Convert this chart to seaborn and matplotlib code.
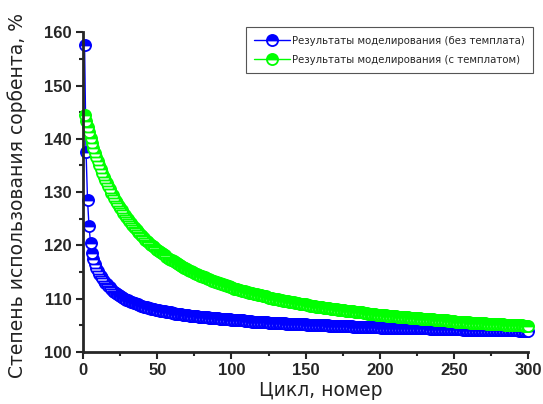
import numpy as np
import matplotlib
matplotlib.use("Agg")
import matplotlib.pyplot as plt
from matplotlib.ticker import MultipleLocator
import seaborn as sns

# cycle number 1..300
cycles = np.arange(1, 301)

# sorbent usage, %
no_template = [
    157.6, 137.6, 128.5, 123.6, 120.5, 118.6, 117.4, 116.5, 115.8, 115.2,
    114.7, 114.2, 113.8, 113.4, 113.0, 112.7, 112.4, 112.1, 111.8, 111.5,
    111.3, 111.1, 110.9, 110.7, 110.5, 110.3, 110.1, 110.0, 109.8, 109.7,
    109.6, 109.4, 109.3, 109.2, 109.1, 109.0, 108.9, 108.8, 108.7, 108.6,
    108.5, 108.4, 108.4, 108.3, 108.2, 108.1, 108.1, 108.0, 107.9, 107.9,
    107.8, 107.7, 107.7, 107.6, 107.6, 107.5, 107.5, 107.4, 107.4, 107.3,
    107.3, 107.2, 107.2, 107.2, 107.1, 107.1, 107.0, 107.0, 107.0, 106.9,
    106.9, 106.8, 106.8, 106.8, 106.7, 106.7, 106.7, 106.6, 106.6, 106.6,
    106.5, 106.5, 106.5, 106.5, 106.4, 106.4, 106.4, 106.3, 106.3, 106.3,
    106.3, 106.2, 106.2, 106.2, 106.2, 106.1, 106.1, 106.1, 106.1, 106.0,
    106.0, 106.0, 106.0, 105.9, 105.9, 105.9, 105.9, 105.9, 105.8, 105.8,
    105.8, 105.8, 105.8, 105.7, 105.7, 105.7, 105.7, 105.7, 105.6, 105.6,
    105.6, 105.6, 105.6, 105.6, 105.5, 105.5, 105.5, 105.5, 105.5, 105.5,
    105.4, 105.4, 105.4, 105.4, 105.4, 105.4, 105.3, 105.3, 105.3, 105.3,
    105.3, 105.3, 105.3, 105.2, 105.2, 105.2, 105.2, 105.2, 105.2, 105.2,
    105.1, 105.1, 105.1, 105.1, 105.1, 105.1, 105.1, 105.0, 105.0, 105.0,
    105.0, 105.0, 105.0, 105.0, 105.0, 104.9, 104.9, 104.9, 104.9, 104.9,
    104.9, 104.9, 104.9, 104.8, 104.8, 104.8, 104.8, 104.8, 104.8, 104.8,
    104.8, 104.7, 104.7, 104.7, 104.7, 104.7, 104.7, 104.7, 104.7, 104.7,
    104.6, 104.6, 104.6, 104.6, 104.6, 104.6, 104.6, 104.6, 104.6, 104.6,
    104.5, 104.5, 104.5, 104.5, 104.5, 104.5, 104.5, 104.5, 104.5, 104.5,
    104.5, 104.5, 104.5, 104.5, 104.5, 104.4, 104.4, 104.4, 104.4, 104.4,
    104.4, 104.4, 104.4, 104.4, 104.4, 104.4, 104.4, 104.4, 104.4, 104.4,
    104.4, 104.4, 104.4, 104.3, 104.3, 104.3, 104.3, 104.3, 104.3, 104.3,
    104.3, 104.3, 104.3, 104.3, 104.3, 104.3, 104.3, 104.3, 104.3, 104.3,
    104.3, 104.3, 104.3, 104.3, 104.3, 104.2, 104.2, 104.2, 104.2, 104.2,
    104.2, 104.2, 104.2, 104.2, 104.2, 104.2, 104.2, 104.2, 104.2, 104.2,
    104.2, 104.2, 104.2, 104.2, 104.2, 104.1, 104.1, 104.1, 104.1, 104.1,
    104.1, 104.1, 104.1, 104.1, 104.1, 104.1, 104.1, 104.1, 104.1, 104.1,
    104.1, 104.1, 104.1, 104.0, 104.0, 104.0, 104.0, 104.0, 104.0, 104.0,
]

with_template = [
    144.5, 143.3, 142.2, 141.2, 140.2, 139.2, 138.3, 137.4, 136.6, 135.8,
    135.0, 134.3, 133.6, 132.9, 132.3, 131.7, 131.1, 130.5, 129.9, 129.4,
    128.9, 128.4, 127.9, 127.4, 127.0, 126.6, 126.1, 125.7, 125.3, 124.9,
    124.6, 124.2, 123.9, 123.5, 123.2, 122.9, 122.6, 122.3, 122.0, 121.7,
    121.4, 121.1, 120.8, 120.6, 120.3, 120.1, 119.8, 119.6, 119.4, 119.1,
    118.9, 118.7, 118.5, 118.3, 118.1, 117.9, 117.7, 117.5, 117.3, 117.2,
    117.0, 116.8, 116.6, 116.5, 116.3, 116.1, 116.0, 115.8, 115.7, 115.5,
    115.4, 115.2, 115.1, 115.0, 114.8, 114.7, 114.6, 114.4, 114.3, 114.2,
    114.1, 114.0, 113.8, 113.7, 113.6, 113.5, 113.4, 113.3, 113.2, 113.1,
    113.0, 112.9, 112.8, 112.7, 112.6, 112.5, 112.4, 112.3, 112.2, 112.1,
    112.0, 111.9, 111.8, 111.8, 111.7, 111.6, 111.5, 111.4, 111.4, 111.3,
    111.2, 111.1, 111.1, 111.0, 110.9, 110.8, 110.8, 110.7, 110.6, 110.6,
    110.5, 110.4, 110.4, 110.3, 110.2, 110.2, 110.1, 110.0, 110.0, 109.9,
    109.9, 109.8, 109.7, 109.7, 109.6, 109.6, 109.5, 109.5, 109.4, 109.4,
    109.3, 109.3, 109.2, 109.1, 109.1, 109.0, 109.0, 108.9, 108.9, 108.9,
    108.8, 108.8, 108.7, 108.7, 108.6, 108.6, 108.5, 108.5, 108.4, 108.4,
    108.4, 108.3, 108.3, 108.2, 108.2, 108.2, 108.1, 108.1, 108.0, 108.0,
    108.0, 107.9, 107.9, 107.8, 107.8, 107.8, 107.7, 107.7, 107.7, 107.6,
    107.6, 107.6, 107.5, 107.5, 107.5, 107.4, 107.4, 107.4, 107.3, 107.3,
    107.3, 107.2, 107.2, 107.2, 107.1, 107.1, 107.1, 107.0, 107.0, 107.0,
    106.9, 106.9, 106.9, 106.9, 106.8, 106.8, 106.8, 106.7, 106.7, 106.7,
    106.7, 106.6, 106.6, 106.6, 106.6, 106.5, 106.5, 106.5, 106.5, 106.4,
    106.4, 106.4, 106.4, 106.3, 106.3, 106.3, 106.3, 106.2, 106.2, 106.2,
    106.2, 106.1, 106.1, 106.1, 106.1, 106.1, 106.0, 106.0, 106.0, 106.0,
    105.9, 105.9, 105.9, 105.9, 105.9, 105.8, 105.8, 105.8, 105.8, 105.8,
    105.7, 105.7, 105.7, 105.7, 105.7, 105.6, 105.6, 105.6, 105.6, 105.6,
    105.5, 105.5, 105.5, 105.5, 105.5, 105.5, 105.4, 105.4, 105.4, 105.4,
    105.4, 105.3, 105.3, 105.3, 105.3, 105.3, 105.3, 105.2, 105.2, 105.2,
    105.2, 105.2, 105.2, 105.1, 105.1, 105.1, 105.1, 105.1, 105.1, 105.0,
    105.0, 105.0, 105.0, 105.0, 105.0, 105.0, 104.9, 104.9, 104.9, 104.9,
]

series = [no_template, with_template]
labels = ["Результаты моделирования (без темплата)",
          "Результаты моделирования (с темплатом)"]
colors = ["#0000ff", "#00ff00"]

sns.set_style("ticks")
plt.rcParams["font.family"] = ["DejaVu Sans"]

fig = plt.figure(figsize=(5.43, 4.04), dpi=100)
ax = fig.add_axes([0.153, 0.129, 0.820, 0.791])

for vals, lab, col in zip(series, labels, colors):
    sns.lineplot(x=cycles, y=vals, ax=ax, color=col, marker="o", markersize=8,
                 fillstyle="top", markerfacecolor=col, markerfacecoloralt="white",
                 markeredgecolor=col, markeredgewidth=1.3, linewidth=1,
                 sort=False, estimator=None, errorbar=None, legend=False,
                 clip_on=False)

ax.set_xlim(0, 300)
ax.set_ylim(100, 160)
ax.xaxis.set_major_locator(MultipleLocator(50))
ax.xaxis.set_minor_locator(MultipleLocator(25))
ax.yaxis.set_major_locator(MultipleLocator(10))
ax.yaxis.set_minor_locator(MultipleLocator(5))

sns.despine(ax=ax)
for s in ["left", "bottom"]:
    ax.spines[s].set_linewidth(2)
ax.tick_params(which="major", direction="out", length=5, width=1.5, pad=3)
ax.tick_params(which="minor", direction="out", length=3, width=1.5)
for t in ax.get_xticklabels() + ax.get_yticklabels():
    t.set_family("Liberation Sans")
    t.set_fontweight("bold")
    t.set_fontsize(12)

ax.set_xlabel("Цикл, номер", fontsize=13.5, color="#222222")
ax.set_ylabel("Степень использования сорбента, %", fontsize=13.5, color="#222222")
ax.xaxis.set_label_coords(0.534, -0.092)
ax.yaxis.set_label_coords(-0.125, 0.49)

leg = ax.legend(ax.lines[:2], labels, loc="upper right",
                bbox_to_anchor=(0.981, 0.932), bbox_transform=fig.transFigure,
                borderaxespad=0, fontsize=7.3, handlelength=3.6,
                handletextpad=0.15, labelspacing=0.9, borderpad=0.8,
                numpoints=1, frameon=True, fancybox=False, framealpha=1)
leg.get_frame().set_edgecolor("#555555")
leg.get_frame().set_linewidth(0.8)

fig.savefig("out.png", dpi=100, facecolor="white")
